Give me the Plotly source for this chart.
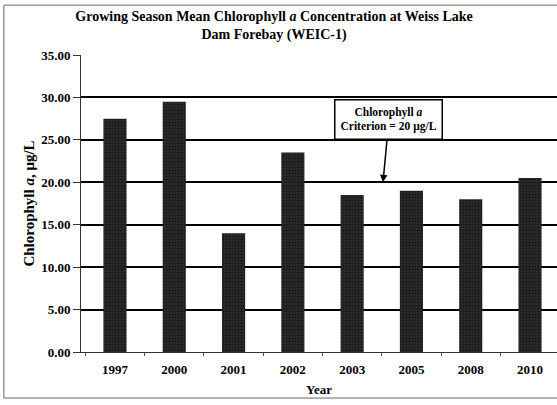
import plotly.graph_objects as go

# Values
years = ["1997", "2000", "2001", "2002", "2003", "2005", "2008", "2010"]
chl_mean = [27.5, 29.5, 14.0, 23.5, 18.5, 19.0, 18.0, 20.5]
y_ticks = [0, 5, 10, 15, 20, 25, 30, 35]
criterion = 20

serif = "Liberation Serif, Times New Roman, serif"

fig = go.Figure()
fig.add_trace(go.Bar(
    x=years,
    y=chl_mean,
    width=0.39,
    marker=dict(
        color="#161616",
        line=dict(width=0),
        pattern=dict(shape=".", fgcolor="#000000", bgcolor="#333333",
                     size=3, solidity=0.6),
    ),
    showlegend=False,
))

fig.update_layout(
    width=557, height=405,
    margin=dict(l=81, r=0, t=55, b=53),
    paper_bgcolor="white",
    plot_bgcolor="white",
    font=dict(family=serif, color="black", size=12),
    title=dict(
        text="<b>Growing Season Mean Chlorophyll <i>a</i> Concentration at Weiss Lake<br>Dam Forebay (WEIC-1)</b>",
        x=0.492, xanchor="center", y=0.948, yanchor="top",
        font=dict(family=serif, size=14),
    ),
)

fig.update_xaxes(
    type="category",
    automargin=False,
    range=[-0.573, 7.455],
    title=dict(text="<b>Year</b>", font=dict(size=13), standoff=9),
    tickfont=dict(family=serif, size=13),
    tickprefix="<b>", ticksuffix="</b>",
    ticklabelstandoff=5,
    showline=True, linecolor="#333", linewidth=1,
    ticks="outside", tickson="boundaries", ticklen=3, tickcolor="#555",
    showgrid=False,
)

fig.update_yaxes(
    automargin=False,
    range=[0, 35],
    tickvals=y_ticks,
    ticktext=[f"<b>{v:.2f}</b>" for v in y_ticks],
    tickfont=dict(family=serif, size=13),
    title=dict(text="<b>Chlorophyll <i>a</i>, μg/L</b>", font=dict(size=15), standoff=2),
    showline=True, linecolor="#333", linewidth=1,
    ticks="outside", ticklen=7, tickcolor="#333",
    showgrid=True, gridcolor="black", gridwidth=2,
    zeroline=False,
)

# criterion callout
fig.add_annotation(
    x=4.52, y=criterion, xref="x", yref="y",
    ax=6, ay=-63,
    text="<b>Chlorophyll <i>a</i><br>Criterion = 20 μg/L</b>",
    showarrow=True, arrowhead=2, arrowsize=1, arrowwidth=1.5, arrowcolor="black",
    font=dict(family=serif, size=11.5),
    bgcolor="white", bordercolor="black", borderwidth=1.5, borderpad=5,
)

# frame around the figure
fig.add_shape(type="rect", xref="paper", yref="paper",
              x0=-0.162, x1=1.02, y0=-0.155, y1=1.168,
              line=dict(color="#666", width=1))

# drop the browser's default body margin so the figure sits at the top-left
fig.write_html("out.html", config={"displayModeBar": False},
               post_script="document.body.style.margin='0';")
